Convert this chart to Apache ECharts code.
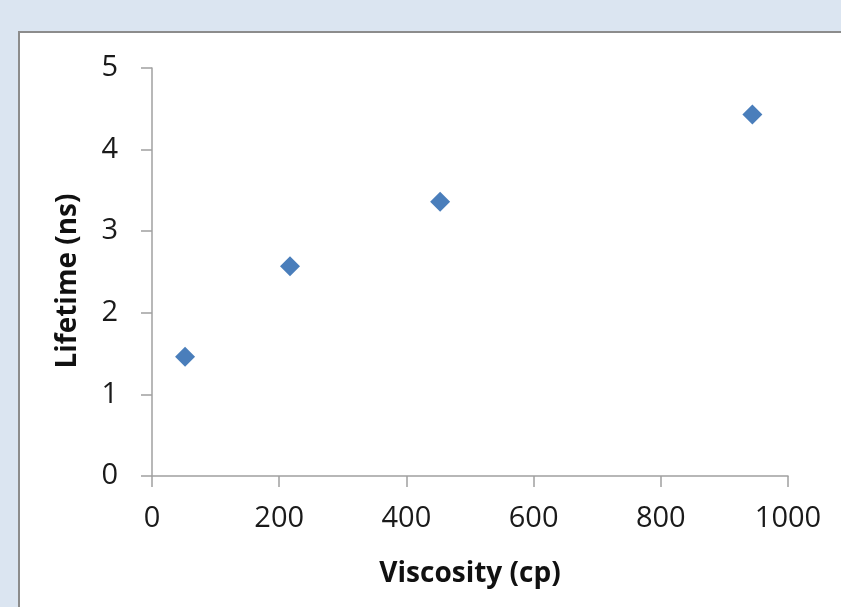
<!DOCTYPE html>
<html>
<head>
<meta charset="utf-8">
<script src="https://cdn.jsdelivr.net/npm/echarts@6/dist/echarts.min.js"></script>
<style>
html,body{margin:0;padding:0;background:#dbe5f1;}
#chart{width:841px;height:607px;}
</style>
</head>
<body>
<div id="chart"></div>
<script>
var viscosity = [52, 217, 453, 944];
var lifetime = [1.46, 2.57, 3.36, 4.43];
var xTitle = 'Viscosity (cp)';
var yTitle = 'Lifetime (ns)';

var points = viscosity.map(function (v, i) { return [v, lifetime[i]]; });
var chart = echarts.init(document.getElementById('chart'));
var labelFont = { fontFamily: 'Open Sans', fontSize: 29, color: '#1a1a1a' };
chart.setOption({
  backgroundColor: '#dbe5f1',
  animation: false,
  graphic: [{
    type: 'rect', z: -10,
    shape: { x: 19, y: 32, width: 900, height: 700 },
    style: { fill: '#ffffff', stroke: '#8c8c8c', lineWidth: 2 }
  }],
  grid: { left: 152, right: 53, top: 68, bottom: 131 },
  xAxis: {
    type: 'value', min: 0, max: 1000, interval: 200,
    name: xTitle, nameLocation: 'middle', nameGap: 84,
    nameTextStyle: { fontFamily: 'Open Sans', fontWeight: 'bold', fontSize: 28, color: '#111111' },
    axisLine: { show: true, lineStyle: { color: '#a0a0a0', width: 1.5 } },
    axisTick: { show: true, length: 11, lineStyle: { color: '#a0a0a0', width: 1.5 } },
    axisLabel: Object.assign({ margin: 28, formatter: function (v) { return String(v); } }, labelFont),
    splitLine: { show: false }
  },
  yAxis: {
    type: 'value', min: 0, max: 5, interval: 1,
    name: yTitle, nameLocation: 'middle', nameGap: 70, nameRotate: 90,
    nameTextStyle: { fontFamily: 'Open Sans', fontWeight: 'bold', fontSize: 28, color: '#111111', padding: [0, 18, 0, 0] },
    axisLine: { show: true, lineStyle: { color: '#a0a0a0', width: 1.5 } },
    axisTick: { show: true, length: 11, lineStyle: { color: '#a0a0a0', width: 1.5 } },
    axisLabel: Object.assign({ margin: 34 }, labelFont),
    splitLine: { show: false }
  },
  series: [{
    type: 'scatter',
    data: points,
    symbol: 'diamond',
    symbolSize: 20,
    itemStyle: { color: '#4a7ebb', opacity: 1 }
  }]
});
</script>
</body>
</html>
